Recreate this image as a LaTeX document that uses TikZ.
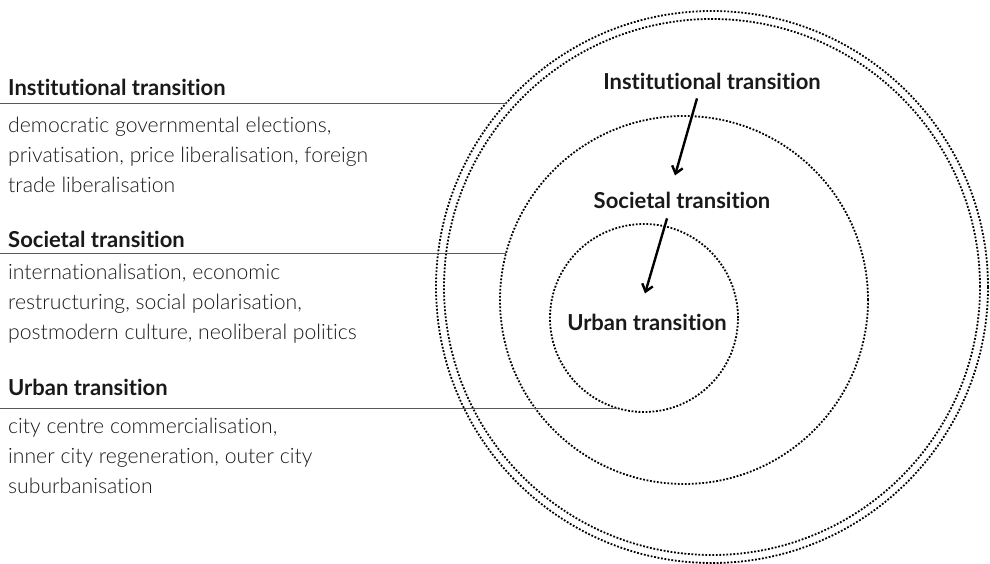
\documentclass[tikz,border=0pt]{standalone}
\usepackage{fontspec}
\setmainfont{Lato}[Ligatures=NoCommon, Contextuals=NoAlternate]
\newfontfamily\lightfont{Lato Light}[Ligatures=NoCommon, Contextuals=NoAlternate]
\usetikzlibrary{positioning,arrows.meta}

\begin{document}
\begin{tikzpicture}[
  x=1pt, y=-1pt,
  ring/.style={circle, draw, line width=1.8pt, dash pattern=on 1.8pt off 1.7pt, inner sep=0pt, outer sep=0pt},
  head/.style={font=\bfseries\fontsize{22}{26}\selectfont, text=black!90, inner sep=0pt, anchor=base west},
  body/.style={font=\lightfont\fontsize{21.2}{30}\selectfont, text=black!90, align=left, inner sep=0pt},
  tag/.style={font=\bfseries\fontsize{22}{26}\selectfont, text=black!90, inner sep=0pt, anchor=base},
  rule/.style={draw=black!65, line width=0.9pt},
  arr/.style={-{Straight Barb[length=7pt,width=11pt]}, line width=2.4pt}
]
\useasboundingbox (0,0) rectangle (990,564);

% nested rings
\node[ring, minimum size=552pt] (outer) at (712,287) {};
\node[ring, minimum size=536pt] (outerb) at (712,287) {};
\node[ring, minimum size=368pt] (middle) at (684,300) {};
\node[ring, minimum size=188pt] (inner) at (644,318) {};

% labels inside the rings
\node[tag] (insttag) at (712,90) {Institutional transition};
\node[tag] (soctag) at (682,208) {Societal transition};
\node[tag] (urbtag) at (647,330) {Urban transition};

\draw[arr] ([xshift=-15pt,yshift=-8pt]insttag.south) -- ([xshift=-7pt,yshift=16pt]soctag.north);
\draw[arr] ([xshift=-15pt,yshift=-10pt]soctag.south) -- ([xshift=-2pt,yshift=20pt]urbtag.north);

% left-hand key
\node[head] (insthead) at (8,96) {Institutional transition};
\node[body, below right=21pt and 0pt of insthead.south west] (instbody)
  {democratic governmental elections,\\privatisation, price liberalisation, foreign\\trade liberalisation};
\draw[rule] (0,103) -- (outer.138.5 |- 0,103);

\node[head] (sochead) at (8,247) {Societal transition};
\node[body, below right=16.5pt and 0pt of sochead.south west] (socbody)
  {internationalisation, economic\\restructuring, social polarisation,\\postmodern culture, neoliberal politics};
\draw[rule] (0,253) -- (middle.165.2 |- 0,253);

\node[head] (urbhead) at (8,395) {Urban transition};
\node[body, below right=22pt and 0pt of urbhead.south west] (urbbody)
  {city centre commercialisation,\\inner city regeneration, outer city\\suburbanisation};
\draw[rule] (0,408) -- (inner.253.2 |- 0,408);
\end{tikzpicture}
\end{document}
